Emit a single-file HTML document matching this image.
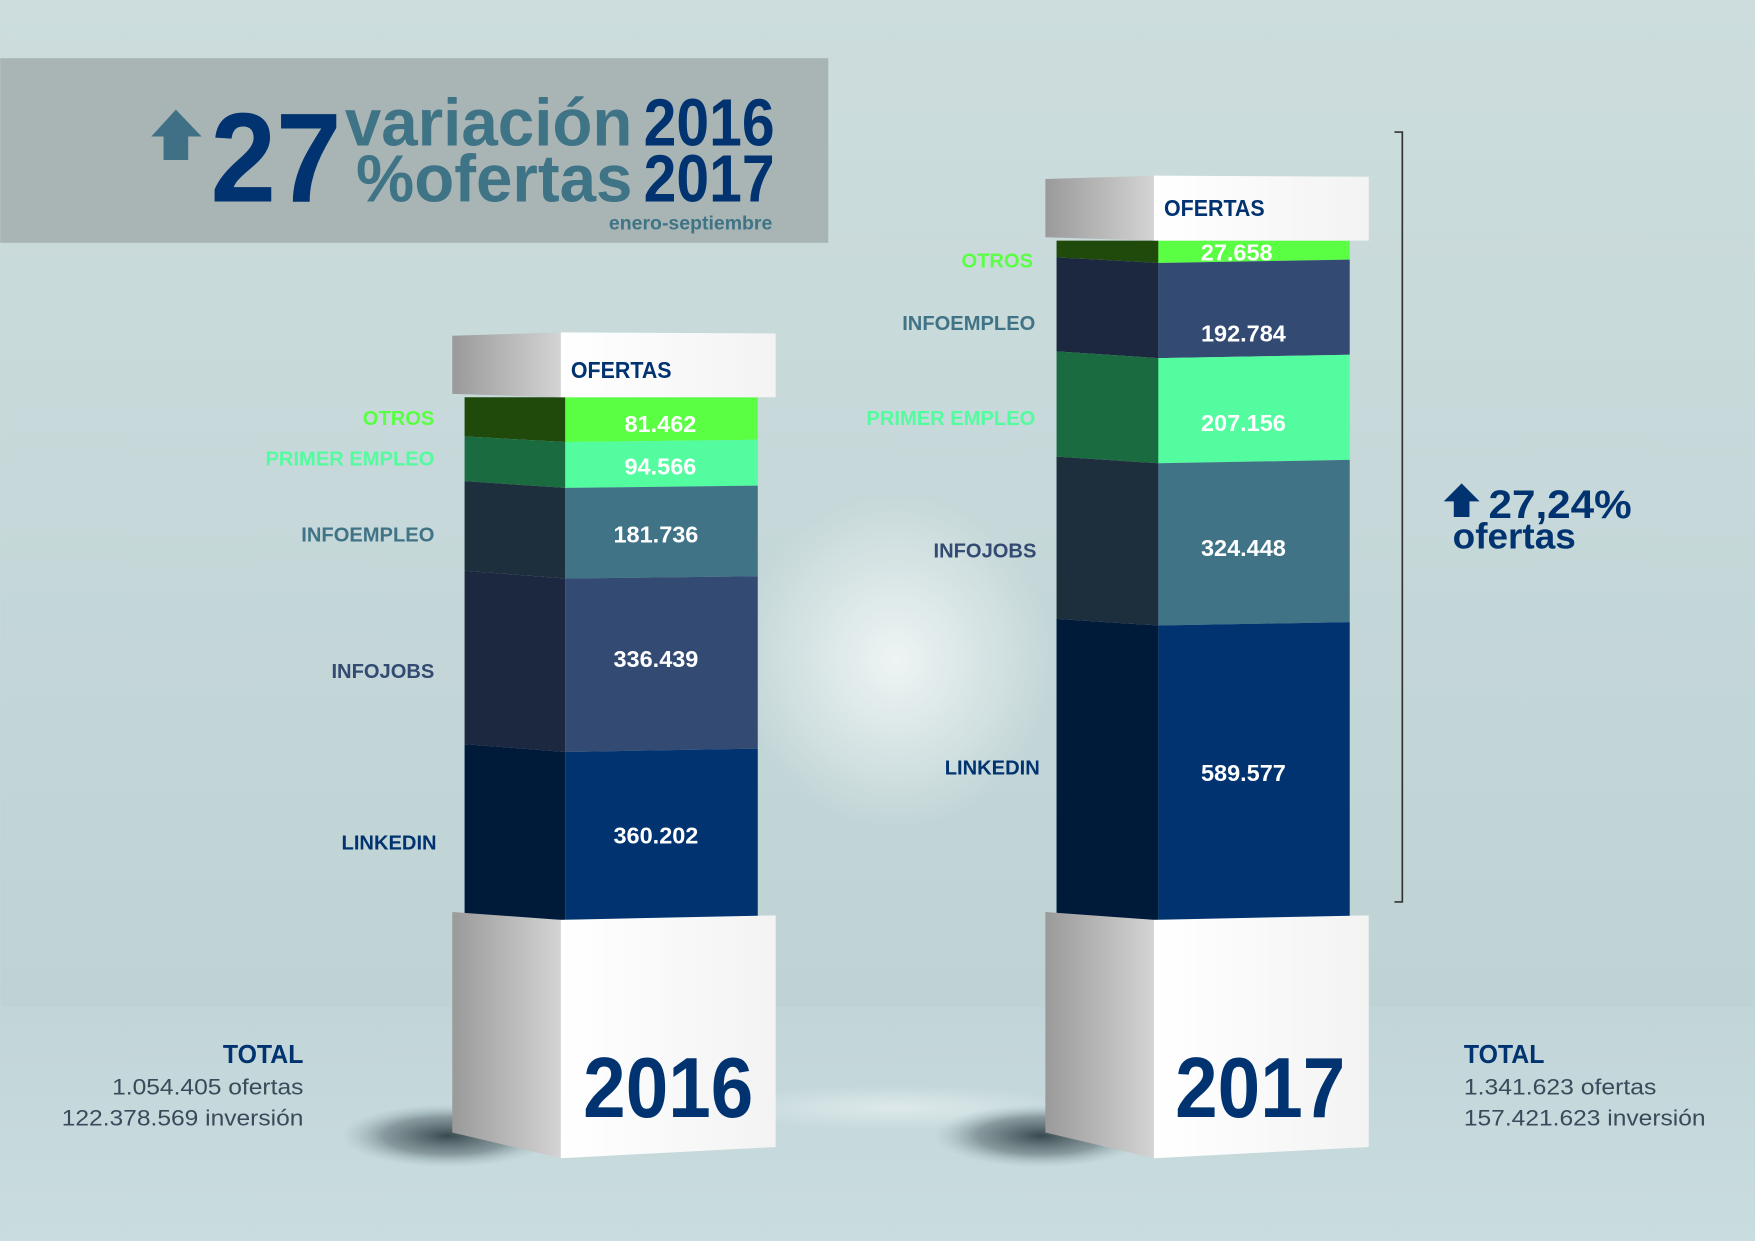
<!DOCTYPE html>
<html><head><meta charset="utf-8"><style>
html,body{margin:0;padding:0;background:#ccdcdd}
svg{display:block}
text{font-family:"Liberation Sans",sans-serif;font-weight:bold}
</style></head><body>
<svg width="1755" height="1241" viewBox="0 0 1568 1109" xmlns="http://www.w3.org/2000/svg">
<defs>
<linearGradient id="bg" x1="0" y1="0" x2="0" y2="1">
<stop offset="0" stop-color="#cddddd"/><stop offset="0.8" stop-color="#bfd3d5"/><stop offset="1" stop-color="#c3d6d8"/>
</linearGradient>
<linearGradient id="band" x1="0" y1="0" x2="0" y2="1">
<stop offset="0" stop-color="#c2d5d8"/><stop offset="1" stop-color="#c9dcdf"/>
</linearGradient>
<radialGradient id="glow" cx="0.5" cy="0.5" r="0.5">
<stop offset="0" stop-color="#eef4f4" stop-opacity="1"/><stop offset="1" stop-color="#eef4f4" stop-opacity="0"/>
</radialGradient>
<linearGradient id="grey" x1="0" y1="0" x2="1" y2="0">
<stop offset="0" stop-color="#9a9a9a"/><stop offset="1" stop-color="#d4d4d4"/>
</linearGradient>
<linearGradient id="white" x1="0" y1="0" x2="1" y2="0">
<stop offset="0" stop-color="#ffffff"/><stop offset="1" stop-color="#f3f3f3"/>
</linearGradient>
<radialGradient id="shadow" cx="0.5" cy="0.5" r="0.5">
<stop offset="0" stop-color="#2a3a40" stop-opacity="0.9"/><stop offset="0.6" stop-color="#4a5a60" stop-opacity="0.5"/><stop offset="1" stop-color="#8aa" stop-opacity="0"/>
</radialGradient>
</defs>
<rect width="1568" height="1109" fill="url(#bg)"/>
<rect y="900" width="1568" height="209" fill="url(#band)"/>
<ellipse cx="800" cy="590" rx="140" ry="150" fill="url(#glow)"/>
<ellipse cx="800" cy="990" rx="160" ry="20" fill="url(#glow)" opacity="0.6"/>

<rect x="0" y="52" width="740" height="165" fill="#a9b5b5"/>
<polygon points="157,98 180,122 168,122 168,143 146,143 146,122 135,122" fill="#3f7085"/>
<text x="188" y="180" font-size="114" fill="#003370" textLength="117" lengthAdjust="spacingAndGlyphs">27</text>
<text x="308" y="130" font-size="60" fill="#3f7386" textLength="257" lengthAdjust="spacingAndGlyphs">variación</text>
<text x="575" y="130" font-size="60" fill="#003370" textLength="117" lengthAdjust="spacingAndGlyphs">2016</text>
<text x="318" y="180" font-size="60" fill="#3f7386" textLength="247" lengthAdjust="spacingAndGlyphs">%ofertas</text>
<text x="575" y="180" font-size="60" fill="#003370" textLength="117" lengthAdjust="spacingAndGlyphs">2017</text>
<text x="690" y="205" font-size="17" fill="#3f7386" text-anchor="end" textLength="146" lengthAdjust="spacingAndGlyphs">enero-septiembre</text>

<ellipse cx="400" cy="1015" rx="95" ry="28" fill="url(#shadow)"/>
<ellipse cx="930" cy="1015" rx="95" ry="28" fill="url(#shadow)"/>

<polygon points="415,355 505,355 505,395 415,390" fill="#1f4a0c"/>
<polygon points="505,355 677,355 677,393 505,395" fill="#5aff44"/>
<polygon points="415,390 505,395 505,436 415,430" fill="#1b6b41"/>
<polygon points="505,395 677,393 677,434 505,436" fill="#52fc9f"/>
<polygon points="415,430 505,436 505,517 415,510" fill="#1d2f3c"/>
<polygon points="505,436 677,434 677,515 505,517" fill="#407386"/>
<polygon points="415,510 505,517 505,672 415,665" fill="#1c2740"/>
<polygon points="505,517 677,515 677,669 505,672" fill="#334a73"/>
<polygon points="415,665 505,672 505,822 415,822" fill="#001a3a"/>
<polygon points="505,672 677,669 677,822 505,822" fill="#003370"/>
<polygon points="404,300 501,297 501,355 404,352" fill="url(#grey)"/>
<polygon points="501,297 693,298 693,355 501,355" fill="url(#white)"/>
<text x="510" y="338" font-size="21" fill="#003370" textLength="90" lengthAdjust="spacingAndGlyphs">OFERTAS</text>
<polygon points="404,815 501,822 501,1035 404,1012" fill="url(#grey)"/>
<polygon points="501,822 693,818 693,1025 501,1035" fill="url(#white)"/>
<text x="597" y="998" font-size="76" fill="#003370" text-anchor="middle" textLength="152" lengthAdjust="spacingAndGlyphs">2016</text>

<g font-size="21" fill="#fff" text-anchor="middle">
<text x="590" y="386">81.462</text>
<text x="590" y="424">94.566</text>
<text x="586" y="485">181.736</text>
<text x="586" y="596">336.439</text>
<text x="586" y="754">360.202</text>
</g>
<g font-size="18" text-anchor="end">
<text x="388" y="380" fill="#5aff44">OTROS</text>
<text x="388" y="416" fill="#52fc9f">PRIMER EMPLEO</text>
<text x="388" y="484" fill="#407386">INFOEMPLEO</text>
<text x="388" y="606" fill="#334a73">INFOJOBS</text>
<text x="390" y="759" fill="#003370">LINKEDIN</text>
</g>

<polygon points="944,215 1035,215 1035,235 944,230" fill="#1f4a0c"/>
<polygon points="1035,215 1206,215 1206,232 1035,235" fill="#5aff44"/>
<polygon points="944,230 1035,235 1035,320 944,314" fill="#1c2740"/>
<polygon points="1035,235 1206,232 1206,317 1035,320" fill="#334a73"/>
<polygon points="944,314 1035,320 1035,414 944,408" fill="#1b6b41"/>
<polygon points="1035,320 1206,317 1206,411 1035,414" fill="#52fc9f"/>
<polygon points="944,408 1035,414 1035,559 944,553" fill="#1d2f3c"/>
<polygon points="1035,414 1206,411 1206,556 1035,559" fill="#407386"/>
<polygon points="944,553 1035,559 1035,822 944,822" fill="#001a3a"/>
<polygon points="1035,559 1206,556 1206,822 1035,822" fill="#003370"/>
<polygon points="934,160 1031,157 1031,215 934,212" fill="url(#grey)"/>
<polygon points="1031,157 1223,158 1223,215 1031,215" fill="url(#white)"/>
<text x="1040" y="193" font-size="21" fill="#003370" textLength="90" lengthAdjust="spacingAndGlyphs">OFERTAS</text>
<polygon points="934,815 1031,822 1031,1035 934,1012" fill="url(#grey)"/>
<polygon points="1031,822 1223,818 1223,1025 1031,1035" fill="url(#white)"/>
<text x="1126" y="998" font-size="76" fill="#003370" text-anchor="middle" textLength="152" lengthAdjust="spacingAndGlyphs">2017</text>

<g font-size="21" fill="#fff" text-anchor="middle">
<text x="1105" y="233">27.658</text>
<text x="1111" y="305">192.784</text>
<text x="1111" y="385">207.156</text>
<text x="1111" y="497">324.448</text>
<text x="1111" y="698">589.577</text>
</g>
<g font-size="18" text-anchor="end">
<text x="923" y="239" fill="#5aff44">OTROS</text>
<text x="925" y="295" fill="#407386">INFOEMPLEO</text>
<text x="925" y="380" fill="#52fc9f">PRIMER EMPLEO</text>
<text x="926" y="498" fill="#334a73">INFOJOBS</text>
<text x="929" y="692" fill="#003370">LINKEDIN</text>
</g>

<polyline points="1246,118 1253,118 1253,806 1246,806" fill="none" stroke="#333" stroke-width="1.5"/>
<polygon points="1306,432 1322,448 1313,448 1313,462 1299,462 1299,448 1290,448" fill="#003370"/>
<text x="1330" y="463" font-size="36" fill="#003370" textLength="128" lengthAdjust="spacingAndGlyphs">27,24%</text>
<text x="1298" y="490" font-size="32" fill="#003370" textLength="110" lengthAdjust="spacingAndGlyphs">ofertas</text>

<text x="271" y="950" font-size="23" fill="#003370" text-anchor="end" textLength="72" lengthAdjust="spacingAndGlyphs">TOTAL</text>
<text x="271" y="978" font-size="20" fill="#3a4a5a" text-anchor="end" style="font-weight:normal" textLength="171" lengthAdjust="spacingAndGlyphs">1.054.405 ofertas</text>
<text x="271" y="1006" font-size="20" fill="#3a4a5a" text-anchor="end" style="font-weight:normal" textLength="216" lengthAdjust="spacingAndGlyphs">122.378.569 inversión</text>
<text x="1308" y="950" font-size="23" fill="#003370" textLength="72" lengthAdjust="spacingAndGlyphs">TOTAL</text>
<text x="1308" y="978" font-size="20" fill="#3a4a5a" style="font-weight:normal" textLength="172" lengthAdjust="spacingAndGlyphs">1.341.623 ofertas</text>
<text x="1308" y="1006" font-size="20" fill="#3a4a5a" style="font-weight:normal" textLength="216" lengthAdjust="spacingAndGlyphs">157.421.623 inversión</text>
</svg>
</body></html>
